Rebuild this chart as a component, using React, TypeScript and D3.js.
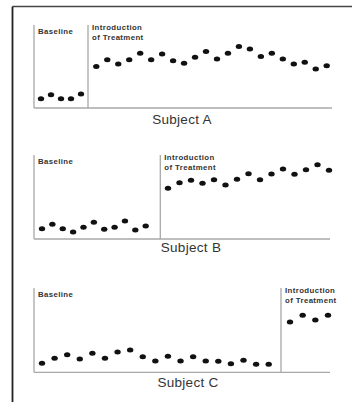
import React from "react";
import * as d3 from "d3";

// ---- Data (values on a 0–10 response scale) ----
const subjects = ["Subject A", "Subject B", "Subject C"];
const phaseLabels = ["Baseline", "Introduction", "of Treatment"];

const baselineA = [1.1, 1.6, 1.1, 1.1, 1.7];
const treatmentA = [5.0, 5.8, 5.3, 5.8, 6.6, 5.8, 6.5, 5.7, 5.4, 6.1, 6.8, 5.9, 6.6, 7.4, 7.1, 6.2, 6.6, 5.9, 5.3, 5.5, 4.7, 5.1];

const baselineB = [1.23, 1.75, 1.23, 0.83, 1.39, 1.99, 1.15, 1.39, 2.14, 1.07, 1.55];
const treatmentB = [6.04, 6.7, 6.99, 6.63, 7.06, 6.43, 7.11, 7.77, 7.06, 7.74, 8.33, 7.7, 8.25, 8.85, 8.18];

const baselineC = [1.07, 1.66, 2.09, 1.58, 2.25, 1.66, 2.41, 2.65, 1.85, 1.34, 1.9, 1.34, 1.85, 1.34, 1.3, 1.02, 1.42, 0.95, 0.95];
const treatmentC = [5.97, 6.76, 6.2, 6.76];

const yDomain = [0, 10];

// ---- Layout ----
const panels = [
  { name: subjects[0], base: baselineA, treat: treatmentA, top: 25, bottom: 108, left: 34, right: 332, phase: 88,
    baseRange: [41, 81], treatRange: [96.3, 326.7], titleX: 182, titleY: 124 },
  { name: subjects[1], base: baselineB, treat: treatmentB, top: 155, bottom: 239, left: 34, right: 330, phase: 160.3,
    baseRange: [42, 145.7], treatRange: [168, 329], titleX: 191, titleY: 252 },
  { name: subjects[2], base: baselineC, treat: treatmentC, top: 288, bottom: 372.3, left: 34, right: 330, phase: 281,
    baseRange: [42, 268.7], treatRange: [290, 328], titleX: 188, titleY: 387 },
];

const axisColor = "#a8a8a8";
const textColor = "#333";

function Panel({ p }: { p: (typeof panels)[number] }) {
  const y = d3.scaleLinear().domain(yDomain).range([p.bottom, p.top]);
  const xb = d3.scalePoint<number>().domain(d3.range(p.base.length)).range(p.baseRange as [number, number]);
  const xt = d3.scalePoint<number>().domain(d3.range(p.treat.length)).range(p.treatRange as [number, number]);
  const font = "Liberation Sans, Arial, sans-serif";
  return (
    <g>
      <line x1={p.left} x2={p.left} y1={p.top} y2={p.bottom} stroke={axisColor} strokeWidth={1.3} />
      <line x1={p.left} x2={p.right} y1={p.bottom} y2={p.bottom} stroke={axisColor} strokeWidth={1.3} />
      <line x1={p.phase} x2={p.phase} y1={p.top} y2={p.bottom} stroke={axisColor} strokeWidth={1.3} />
      <text x={p.left + 4} y={p.top + 9} fontSize={7.8} fontWeight="bold" letterSpacing={0.4} fill={textColor}
        fontFamily={font}>{phaseLabels[0]}</text>
      <text x={p.phase + 4} y={p.top + 5} fontSize={7.8} fontWeight="bold" letterSpacing={0.4} fill={textColor}
        fontFamily={font}>{phaseLabels[1]}</text>
      <text x={p.phase + 4} y={p.top + 15} fontSize={7.8} fontWeight="bold" letterSpacing={0.4} fill={textColor}
        fontFamily={font}>{phaseLabels[2]}</text>
      {p.base.map((v, i) => (
        <ellipse key={"b" + i} cx={xb(i)} cy={y(v)} rx={3.2} ry={2.5} fill="#111" />
      ))}
      {p.treat.map((v, i) => (
        <ellipse key={"t" + i} cx={xt(i)} cy={y(v)} rx={3.2} ry={2.5} fill="#111" />
      ))}
      <text x={p.titleX} y={p.titleY} textAnchor="middle" fontSize={13.5} letterSpacing={0.3} fill={textColor}
        fontFamily={font}>{p.name}</text>
    </g>
  );
}

export default function App() {
  return (
    <svg width={352} height={402} style={{ position: "absolute", left: 0, top: 0, background: "#fff" }}>
      <rect x={0} y={0} width={352} height={402} fill="#fff" />
      <line x1={12.5} x2={352} y1={6.5} y2={6.5} stroke="#444" strokeWidth={1.5} />
      <line x1={12.5} x2={12.5} y1={6.5} y2={402} stroke="#222" strokeWidth={1.8} />
      {panels.map((p) => (
        <Panel key={p.name} p={p} />
      ))}
    </svg>
  );
}
